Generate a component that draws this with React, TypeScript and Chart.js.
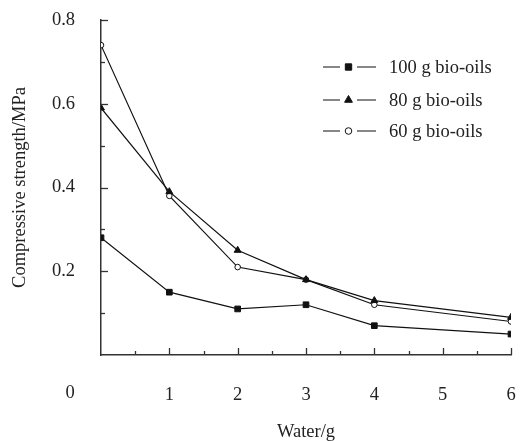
import React, { useEffect, useRef } from "react";
import { Chart, registerables } from "chart.js";
import { drawPoint } from "chart.js/helpers";

Chart.register(...registerables);

const waterAmounts = [0, 1, 2, 3, 4, 6];
const bio100 = [0.28, 0.15, 0.11, 0.12, 0.07, 0.05];
const bio80 = [0.59, 0.39, 0.25, 0.18, 0.13, 0.09];
const bio60 = [0.74, 0.38, 0.21, 0.18, 0.12, 0.08];
const seriesLabels = ["100 g bio-oils", "80 g bio-oils", "60 g bio-oils"];
const seriesMarkers = ["rect", "triangle", "circle"];
const yLabelValues = [0.2, 0.4, 0.6, 0.8];
const xLabelValues = [1, 2, 3, 4, 5, 6];

const FONT = "'Liberation Serif', 'Times New Roman', serif";
const FS = 18.5;
const INK = "#222";

const toPoints = (ys: number[]) => waterAmounts.map((x, i) => ({ x, y: ys[i] }));

const axisDecor = {
  id: "axisDecor",
  afterDraw(chart: any) {
    const { ctx } = chart;
    const xs = chart.scales.x;
    const ys = chart.scales.y;
    ctx.save();
    ctx.strokeStyle = "#333";
    ctx.lineWidth = 1.3;
    for (let k = 1; k <= 8; k++) {
      const py = Math.round(ys.getPixelForValue(k / 10)) + 0.5;
      const len = k % 2 === 0 ? 7 : 4;
      ctx.beginPath();
      ctx.moveTo(xs.left, py);
      ctx.lineTo(xs.left + len, py);
      ctx.stroke();
    }
    for (let k = 1; k <= 12; k++) {
      const px = Math.round(xs.getPixelForValue(k / 2)) + 0.5;
      const len = k % 2 === 0 ? 7 : 4;
      ctx.beginPath();
      ctx.moveTo(px, ys.bottom);
      ctx.lineTo(px, ys.bottom - len);
      ctx.stroke();
    }
    ctx.fillStyle = INK;
    ctx.font = `${FS}px ${FONT}`;
    ctx.textAlign = "center";
    ctx.textBaseline = "middle";
    ctx.fillText("0", xs.left - 31, ys.bottom + 38);

    const rows = [67, 100, 131];
    chart.data.datasets.forEach((ds: any, i: number) => {
      const ry = rows[i];
      ctx.strokeStyle = "#111";
      ctx.lineWidth = 1.2;
      ctx.beginPath();
      ctx.moveTo(323, ry);
      ctx.lineTo(340, ry);
      ctx.moveTo(357, ry);
      ctx.lineTo(376, ry);
      ctx.stroke();
      ctx.fillStyle = ds.pointBackgroundColor;
      ctx.strokeStyle = "#111";
      ctx.lineWidth = 1;
      drawPoint(ctx, { pointStyle: ds.pointStyle, radius: ds.pointRadius + 0.5, rotation: 0, borderWidth: 1 }, 348.5, ry);
      ctx.fillStyle = INK;
      ctx.font = `${FS}px ${FONT}`;
      ctx.textAlign = "left";
      ctx.textBaseline = "middle";
      ctx.fillText(ds.label, 389, ry + 1);
    });
    ctx.restore();
  },
};

export default function App() {
  const ref = useRef<HTMLCanvasElement | null>(null);
  useEffect(() => {
    if (!ref.current) return;
    const series = [bio100, bio80, bio60];
    const chart = new Chart(ref.current, {
      type: "line",
      data: {
        datasets: series.map((s, i) => ({
          label: seriesLabels[i],
          data: toPoints(s),
          borderColor: "#111",
          borderWidth: 1.2,
          pointStyle: seriesMarkers[i] as any,
          pointRadius: seriesMarkers[i] === "circle" ? 2.8 : 4,
          pointBackgroundColor: seriesMarkers[i] === "circle" ? "#fff" : "#111",
          pointBorderColor: "#111",
          pointBorderWidth: 1,
          tension: 0,
        })),
      },
      options: {
        responsive: false,
        animation: false,
        layout: { padding: { top: 20, right: 9, left: 0, bottom: 0 } },
        plugins: { legend: { display: false }, tooltip: { enabled: false } },
        scales: {
          x: {
            type: "linear",
            min: 0,
            max: 6,
            afterFit: (s: any) => {
              s.height = 86;
              s.paddingLeft = 0;
              s.paddingRight = 0;
            },
            grid: { display: false, drawTicks: false },
            border: { display: true, color: "#333", width: 1.5 },
            ticks: {
              stepSize: 1,
              padding: 29,
              color: INK,
              font: { family: FONT, size: FS },
              callback: (v: any) => (xLabelValues.includes(Number(v)) ? String(v) : ""),
            },
            title: {
              display: true,
              text: "Water/g",
              color: INK,
              font: { family: FONT, size: FS, lineHeight: 1 },
              padding: { top: 0, bottom: 0 },
            },
          },
          y: {
            type: "linear",
            min: 0,
            max: 0.8,
            afterFit: (s: any) => {
              s.width = 101;
              s.paddingTop = 0;
              s.paddingBottom = 0;
            },
            grid: { display: false, drawTicks: false },
            border: { display: true, color: "#333", width: 1.5 },
            ticks: {
              stepSize: 0.1,
              padding: 26,
              color: INK,
              font: { family: FONT, size: FS },
              callback: (v: any) => {
                const k = Math.round(Number(v) * 10) / 10;
                return yLabelValues.includes(k) ? k.toFixed(1) : "";
              },
            },
            title: {
              display: true,
              text: "Compressive strength/MPa",
              color: INK,
              font: { family: FONT, size: FS, lineHeight: 1 },
              padding: { top: 11, bottom: 0 },
            },
          },
        },
      },
      plugins: [axisDecor],
    });
    return () => chart.destroy();
  }, []);
  return (
    <div style={{ position: "absolute", left: 0, top: 0, width: 520, height: 441, background: "#fff" }}>
      <canvas ref={ref} width={520} height={441} style={{ display: "block" }} />
    </div>
  );
}
